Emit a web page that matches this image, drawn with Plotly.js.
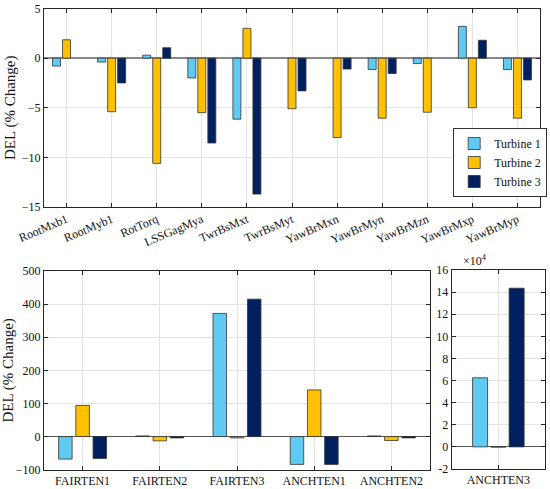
<!DOCTYPE html>
<html><head><meta charset="utf-8">
<script src="https://cdn.plot.ly/plotly-3.0.1.min.js"></script>
<style>html,body{margin:0;padding:0;background:#fff}#plot{width:550px;height:489px}</style>
</head><body><div id="plot"></div>
<script>
const seriesNames = ['Turbine 1','Turbine 2','Turbine 3'];
const seriesColors = ['#5FCBF2','#FFC000','#002060'];

const topCats = ['RootMxb1','RootMyb1','RotTorq','LSSGagMya','TwrBsMxt','TwrBsMyt','YawBrMxn','YawBrMyn','YawBrMzn','YawBrMxp','YawBrMyp'];
const topT1 = [-0.8,-0.4,0.3,-2.0,-6.15,0,0,-1.15,-0.55,3.2,-1.15];
const topT2 = [1.85,-5.4,-10.6,-5.5,3.0,-5.1,-8.0,-6.05,-5.45,-5.0,-6.05];
const topT3 = [0,-2.5,1.05,-8.55,-13.7,-3.3,-1.1,-1.55,0,1.8,-2.2];

const midCats = ['FAIRTEN1','FAIRTEN2','FAIRTEN3','ANCHTEN1','ANCHTEN2'];
const midT1 = [-68,2,372,-84,2];
const midT2 = [94,-13,-4,141,-12];
const midT3 = [-66,-4,415,-84,-4];

const rightCats = ['ANCHTEN3'];
const rightT1 = [62500];
const rightT2 = [-200];
const rightT3 = [143500];
const rightTickVals = [-20000,0,20000,40000,60000,80000,100000,120000,140000,160000];
const rightTickText = ['-2','0','2','4','6','8','10','12','14','16'];

const FONT = 'Liberation Serif';

function bars(cats, vals, xa, ya, pitch, width, legend){
  return vals.map((v,i)=>({
    type:'bar', x:cats, y:v.map(d => d === 0 ? null : d), xaxis:xa, yaxis:ya,
    name:seriesNames[i], showlegend:legend,
    marker:{color:seriesColors[i], line:{color:'#333333', width:0.8}},
    width:width, offset:(i-1)*pitch - width/2,
    hoverinfo:'skip'
  }));
}

const data = [].concat(
  bars(topCats,[topT1,topT2,topT3],'x','y',0.222,0.177,true),
  bars(midCats,[midT1,midT2,midT3],'x2','y2',0.223,0.175,false),
  bars(rightCats,[rightT1,rightT2,rightT3],'x3','y3',0.196,0.161,false)
);

const axBase = {
  showline:true, mirror:'ticks', linecolor:'#262626', linewidth:1,
  ticks:'inside', ticklen:4, tickcolor:'#262626',
  showgrid:true, gridcolor:'#e3e3e3', gridwidth:1,
  tickfont:{family:FONT, size:12, color:'#111'}, zeroline:false
};

const layout = {
  width:550, height:489, margin:{l:0,r:0,t:0,b:0},
  paper_bgcolor:'#fff', plot_bgcolor:'#fff',
  font:{family:FONT, color:'#111'},
  barmode:'group',
  xaxis:Object.assign({}, axBase, {domain:[0.08,0.9818], anchor:'y', type:'category', range:[-0.5,10.5], tickangle:-23, tickfont:{family:FONT,size:12,color:'#111'}}),
  yaxis:Object.assign({}, axBase, {domain:[0.5767,0.9826], anchor:'x', range:[-15,5], tickvals:[-15,-10,-5,0,5],
    zeroline:true, zerolinecolor:'#888888', zerolinewidth:1.5,
    title:{text:'DEL (% Change)', font:{family:FONT,size:15,color:'#111'}, standoff:2}}),
  xaxis2:Object.assign({}, axBase, {domain:[0.08,0.7818], anchor:'y2', type:'category', range:[-0.5,4.5], tickangle:0}),
  yaxis2:Object.assign({}, axBase, {domain:[0.0395,0.4458], anchor:'x2', range:[-100,500], tickvals:[-100,0,100,200,300,400,500],
    zeroline:true, zerolinecolor:'#555555', zerolinewidth:1,
    title:{text:'DEL (% Change)', font:{family:FONT,size:15,color:'#111'}, standoff:1}}),
  xaxis3:Object.assign({}, axBase, {domain:[0.8213,0.9909], anchor:'y3', type:'category', range:[-0.5,0.5], tickangle:0}),
  yaxis3:Object.assign({}, axBase, {domain:[0.0409,0.4479], anchor:'x3', range:[-20000,160000], tickvals:rightTickVals, ticktext:rightTickText,
    zeroline:true, zerolinecolor:'#555555', zerolinewidth:1}),
  legend:{x:0.824, y:1-197/489, xanchor:'left', yanchor:'bottom', bgcolor:'#fff', bordercolor:'#333', borderwidth:1,
    font:{family:FONT,size:12,color:'#111'}, tracegroupgap:0, itemwidth:30},
  annotations:[{xref:'paper', yref:'paper', x:0.838, y:0.4479, xanchor:'left', yanchor:'bottom',
    text:'×10<sup>4</sup>', showarrow:false, font:{family:FONT,size:12,color:'#111'}}]
};

Plotly.newPlot('plot', data, layout, {displayModeBar:false, staticPlot:true});
</script></body></html>
